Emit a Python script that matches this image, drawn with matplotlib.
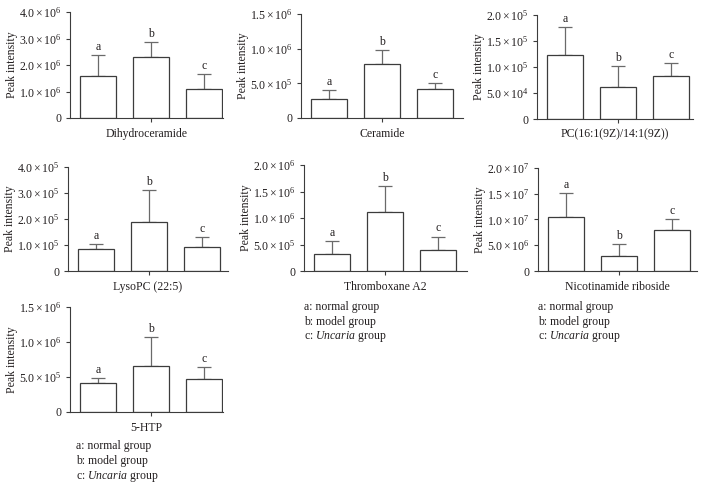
import math

import matplotlib
matplotlib.use("Agg")
import matplotlib.pyplot as plt
from matplotlib.ticker import FuncFormatter

plt.rcParams["font.family"] = ["Liberation Serif", "DejaVu Serif"]
plt.rcParams["mathtext.fontset"] = "custom"
plt.rcParams["mathtext.rm"] = "Liberation Serif"
plt.rcParams["mathtext.it"] = "Liberation Serif:italic"
plt.rcParams["font.size"] = 8.5

TXT = "#231f20"
EDGE = "#3c3c3c"
ERR = "#6a6a6a"

# ---------------------------------------------------------------------------
# Donnees
# ---------------------------------------------------------------------------
groups = ["a", "b", "c"]
metabolites = ["Dihydroceramide", "Ceramide", "PC(16:1(9Z)/14:1(9Z))",
               "LysoPC (22:5)", "Thromboxane A2", "Nicotinamide riboside",
               "5-HTP"]

dihydroceramide_mean = [1.58e6, 2.29e6, 1.08e6]
dihydroceramide_top = [2.38e6, 2.86e6, 1.65e6]
ceramide_mean = [0.275e6, 0.785e6, 0.42e6]
ceramide_top = [0.405e6, 0.985e6, 0.51e6]
pc_mean = [1.23e5, 0.625e5, 0.835e5]
pc_top = [1.775e5, 1.01e5, 1.075e5]
lysopc_mean = [0.83e5, 1.87e5, 0.93e5]
lysopc_top = [1.03e5, 3.11e5, 1.29e5]
thromboxane_mean = [0.32e6, 1.12e6, 0.40e6]
thromboxane_top = [0.57e6, 1.61e6, 0.65e6]
nicotinamide_mean = [1.04e7, 0.285e7, 0.79e7]
nicotinamide_top = [1.51e7, 0.52e7, 1.0e7]
htp_mean = [0.41e6, 0.653e6, 0.473e6]
htp_top = [0.48e6, 1.075e6, 0.643e6]

means = [dihydroceramide_mean, ceramide_mean, pc_mean, lysopc_mean,
         thromboxane_mean, nicotinamide_mean, htp_mean]
tops = [dihydroceramide_top, ceramide_top, pc_top, lysopc_top,
        thromboxane_top, nicotinamide_top, htp_top]

y_max = [4.0e6, 1.5e6, 2.0e5, 4.0e5, 2.0e6, 2.0e7, 1.5e6]
y_step = [1.0e6, 0.5e6, 0.5e5, 1.0e5, 0.5e6, 0.5e7, 0.5e6]

legend_lines = ["a: normal group", "b: model group",
                r"c: $\mathit{Uncaria}$ group"]

# position des axes en pixels : (gauche, droite, haut, bas)
boxes = [(70, 223, 12, 118), (301, 463, 14, 118), (537, 693, 15, 119),
         (68, 228, 167, 271), (304, 467, 165, 271), (538, 697, 168, 271),
         (70, 223, 307, 412)]

W, H = 701, 488
PX_PER_UNIT = 53.0


def sci_label(v, _pos=None):
    if v == 0:
        return "0"
    e = int(math.floor(math.log10(abs(v)) + 1e-9))
    m = v / 10 ** e
    return rf"${m:.1f}\times10^{{{e}}}$"


fig = plt.figure(figsize=(W / 100, H / 100), dpi=100)

for i, name in enumerate(metabolites):
    x0, x1, yt, yb = boxes[i]
    ax = fig.add_axes([x0 / W, 1 - yb / H, (x1 - x0) / W, (yb - yt) / H])
    xs = [0, 1, 2]
    ax.bar(xs, means[i], width=0.68, color="white", edgecolor=EDGE,
           linewidth=0.9, zorder=2)
    up = [t - m for t, m in zip(tops[i], means[i])]
    ax.errorbar(xs, means[i], yerr=[[0, 0, 0], up], fmt="none",
                ecolor=ERR, elinewidth=0.9, capsize=5, capthick=0.9,
                zorder=1)
    for x, t, g in zip(xs, tops[i], groups):
        ax.annotate(g, (x, t), xytext=(0, 1.5), textcoords="offset points",
                    ha="center", va="bottom", color=TXT)

    ax.set_xlim(-0.53, -0.53 + (x1 - x0) / PX_PER_UNIT)
    ax.set_ylim(0, y_max[i])
    n = int(round(y_max[i] / y_step[i]))
    ax.set_yticks([k * y_step[i] for k in range(n + 1)])
    ax.yaxis.set_major_formatter(FuncFormatter(sci_label))
    ax.set_xticks([1])
    ax.set_xticklabels([""])
    ax.tick_params(axis="both", colors=EDGE, labelcolor=TXT, length=3,
                   width=0.8, pad=3)
    ax.tick_params(axis="x", pad=0)
    ax.set_xlabel(name, color=TXT, labelpad=4)
    ax.set_ylabel("Peak intensity", color=TXT, labelpad=1)
    for side in ("top", "right"):
        ax.spines[side].set_visible(False)
    for side in ("left", "bottom"):
        ax.spines[side].set_color(EDGE)
        ax.spines[side].set_linewidth(0.8)

# Legendes textuelles
for lx, ly in [(304, 307), (538, 307), (76, 446)]:
    for k, line in enumerate(legend_lines):
        fig.text(lx / W, 1 - (ly + 15 * k) / H, line, ha="left",
                 va="center", color=TXT)

fig.savefig("out.png", dpi=100)
